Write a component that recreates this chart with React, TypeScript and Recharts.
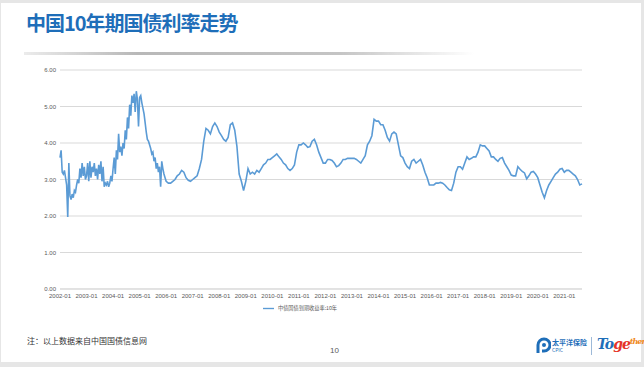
import React from 'react';
import { LineChart, Line, XAxis, YAxis, CartesianGrid, Legend } from 'recharts';

// 中债国债到期收益率:10年 (half-monthly for 2002-2005, monthly afterwards)
const y2002 = [3.6, 3.8, 3.2, 3.15, 3.25, 3.05, 2.85, 1.97, 3.45, 2.55, 2.45, 2.6, 2.5, 2.7, 2.65, 2.85, 3.0, 2.9, 3.3, 3.05, 3.45, 3.1, 3.35, 3.0];
const y2003 = [3.1, 3.45, 2.95, 3.5, 3.05, 3.35, 3.2, 3.45, 3.1, 3.3, 3.0, 3.4, 3.15, 3.5, 2.95, 3.35, 2.8, 2.9, 2.85, 2.95, 2.8, 2.9, 3.1, 2.95];
const y2004 = [3.3, 3.6, 3.15, 3.8, 3.55, 4.25, 3.75, 3.9, 3.65, 4.0, 3.85, 4.35, 4.1, 4.7, 4.4, 5.05, 4.75, 5.3, 5.1, 5.35, 4.85, 5.42, 5.2, 4.45];
const y2005 = [5.25, 5.3, 5.1, 4.95, 4.8, 4.55, 4.3, 4.1, 4.05, 3.95, 3.85, 3.7, 3.75, 3.5, 3.6, 3.3, 3.45, 3.2, 3.35, 2.8, 3.5, 3.3, 3.15, 3.05];
const y2006 = [2.95, 2.9, 2.9, 2.95, 3.0, 3.1, 3.15, 3.25, 3.2, 3.05, 2.98, 2.95];
const y2007 = [3.0, 3.05, 3.1, 3.3, 3.55, 4.05, 4.4, 4.35, 4.25, 4.45, 4.55, 4.45];
const y2008 = [4.3, 4.2, 4.1, 4.05, 4.15, 4.5, 4.55, 4.35, 3.9, 3.15, 2.95, 2.7];
const y2009 = [2.95, 3.3, 3.15, 3.2, 3.15, 3.25, 3.2, 3.3, 3.4, 3.45, 3.55, 3.55];
const y2010 = [3.6, 3.65, 3.7, 3.62, 3.55, 3.45, 3.4, 3.3, 3.25, 3.3, 3.4, 3.75];
const y2011 = [3.95, 3.95, 4.0, 3.95, 3.88, 3.9, 4.05, 4.1, 3.95, 3.75, 3.6, 3.45];
const y2012 = [3.45, 3.55, 3.55, 3.52, 3.45, 3.35, 3.38, 3.45, 3.55, 3.55, 3.58, 3.58];
const y2013 = [3.58, 3.58, 3.55, 3.5, 3.45, 3.55, 3.65, 3.95, 4.05, 4.2, 4.65, 4.6];
const y2014 = [4.6, 4.5, 4.5, 4.35, 4.15, 4.05, 4.25, 4.3, 4.25, 3.95, 3.65, 3.6];
const y2015 = [3.45, 3.35, 3.3, 3.5, 3.55, 3.45, 3.5, 3.55, 3.4, 3.2, 3.05, 2.85];
const y2016 = [2.85, 2.85, 2.9, 2.9, 2.92, 2.9, 2.85, 2.78, 2.72, 2.7, 2.9, 3.2];
const y2017 = [3.35, 3.35, 3.28, 3.45, 3.62, 3.55, 3.58, 3.62, 3.62, 3.75, 3.95, 3.92];
const y2018 = [3.92, 3.85, 3.78, 3.62, 3.62, 3.55, 3.5, 3.58, 3.6, 3.45, 3.35, 3.25];
const y2019 = [3.12, 3.1, 3.1, 3.35, 3.28, 3.22, 3.18, 3.02, 3.1, 3.2, 3.22, 3.15];
const y2020 = [3.05, 2.85, 2.65, 2.5, 2.7, 2.85, 2.95, 3.05, 3.15, 3.2, 3.28, 3.3];
const y2021 = [3.2, 3.25, 3.25, 3.2, 3.15, 3.1, 3.0, 2.85, 2.88];

const firstYear = 2002;
const byYear = [y2002, y2003, y2004, y2005, y2006, y2007, y2008, y2009, y2010, y2011,
  y2012, y2013, y2014, y2015, y2016, y2017, y2018, y2019, y2020, y2021];

const yearTicks = byYear.map((_, i) => firstYear + i);
const valueTicks = [0, 1, 2, 3, 4, 5, 6];
const seriesName = '中债国债到期收益率:10年';

const data = byYear.flatMap((vals, i) => {
  const perYear = vals.length > 12 ? 24 : 12;
  return vals.map((v, j) => ({ t: firstYear + i + j / perYear, v }));
});

const tickStyle = { fontSize: 6, fill: '#595959', fontFamily: '"Liberation Sans", "Noto Sans CJK SC"' };

const CpicLogo: React.FC = () => (
  <div style={{ position: 'absolute', left: 536, top: 337, display: 'flex', alignItems: 'center' }}>
    <svg width={15} height={17}>
      <path d="M2 16 V8 A6 6 0 1 1 8 14 H6" fill="none" stroke="#1e6eb9" strokeWidth={3} />
      <circle cx={8} cy={8} r={2} fill="#1e6eb9" />
    </svg>
    <div style={{ marginLeft: 1, lineHeight: 1, color: '#1e6eb9' }}>
      <div style={{ fontSize: 7, fontWeight: 700 }}>太平洋保险</div>
      <div style={{ fontSize: 5, marginTop: 1 }}>CPIC</div>
    </div>
  </div>
);

const App: React.FC = () => (
  <div style={{ position: 'absolute', left: 0, top: 0, width: 644, height: 367, background: '#e6e6e6', overflow: 'hidden', fontFamily: '"Noto Sans CJK SC", sans-serif' }}>
    <div style={{ position: 'absolute', left: 1, top: 3, width: 640, height: 359, background: '#ffffff' }} />
    <div style={{ position: 'absolute', left: 26, top: 8, fontSize: 20, fontWeight: 700, color: '#1e6eb9', lineHeight: '30px', letterSpacing: -1 }}>
      中国10年期国债利率走势
    </div>
    <div style={{ position: 'absolute', left: 24, top: 52, width: 450, height: 3, filter: 'blur(0.6px)',
      background: 'linear-gradient(to right, rgba(190,190,190,0.3), #b8b8b8 25%, #c4c4c4 70%, rgba(255,255,255,0))' }} />

    <div style={{ position: 'absolute', left: 0, top: 0 }}>
      <LineChart width={644} height={330} data={data} margin={{ top: 70, right: 62, bottom: 11, left: 0 }}>
        <CartesianGrid vertical={false} stroke="#d9d9d9" />
        <XAxis type="number" dataKey="t" domain={[firstYear, 'dataMax']} ticks={yearTicks} interval={0}
          tickFormatter={(v) => `${v}-01`} tick={tickStyle} tickLine={false} tickSize={0} tickMargin={5}
          axisLine={{ stroke: '#d9d9d9' }} height={14} />
        <YAxis domain={[0, 6]} ticks={valueTicks} tickFormatter={(v) => Number(v).toFixed(2)} tick={tickStyle}
          axisLine={false} tickLine={false} tickSize={0} tickMargin={4} width={60} />
        <Legend verticalAlign="bottom" height={16} iconType="plainline" iconSize={11}
          wrapperStyle={{ fontSize: 5.2, fontFamily: '"Noto Sans CJK SC"', left: 14, width: 582 }}
          formatter={(value) => <span style={{ color: '#595959' }}>{value}</span>} />
        <Line type="linear" dataKey="v" name={seriesName} stroke="#5b9bd5" strokeWidth={1.6} dot={false} isAnimationActive={false} />
      </LineChart>
    </div>

    <div style={{ position: 'absolute', left: 27, top: 335, fontSize: 8, color: '#333333' }}>注：以上数据来自中国国债信息网</div>
    <div style={{ position: 'absolute', left: 330, top: 346, fontSize: 8, color: '#595959', fontFamily: '"Liberation Sans"' }}>10</div>
    <CpicLogo />
    <div style={{ position: 'absolute', left: 591, top: 337, width: 1, height: 18, background: '#9db9d8' }} />
    <div style={{ position: 'absolute', left: 597, top: 336, fontSize: 14, fontWeight: 700, fontStyle: 'italic', fontFamily: '"DejaVu Serif"', letterSpacing: -1 }}>
      <span style={{ color: '#1e6eb9' }}>To</span>
      <span style={{ color: '#e5332a' }}>ge</span>
      <span style={{ color: '#f08a24', fontSize: 8, verticalAlign: 'top' }}>ther</span>
    </div>
  </div>
);

export default App;
